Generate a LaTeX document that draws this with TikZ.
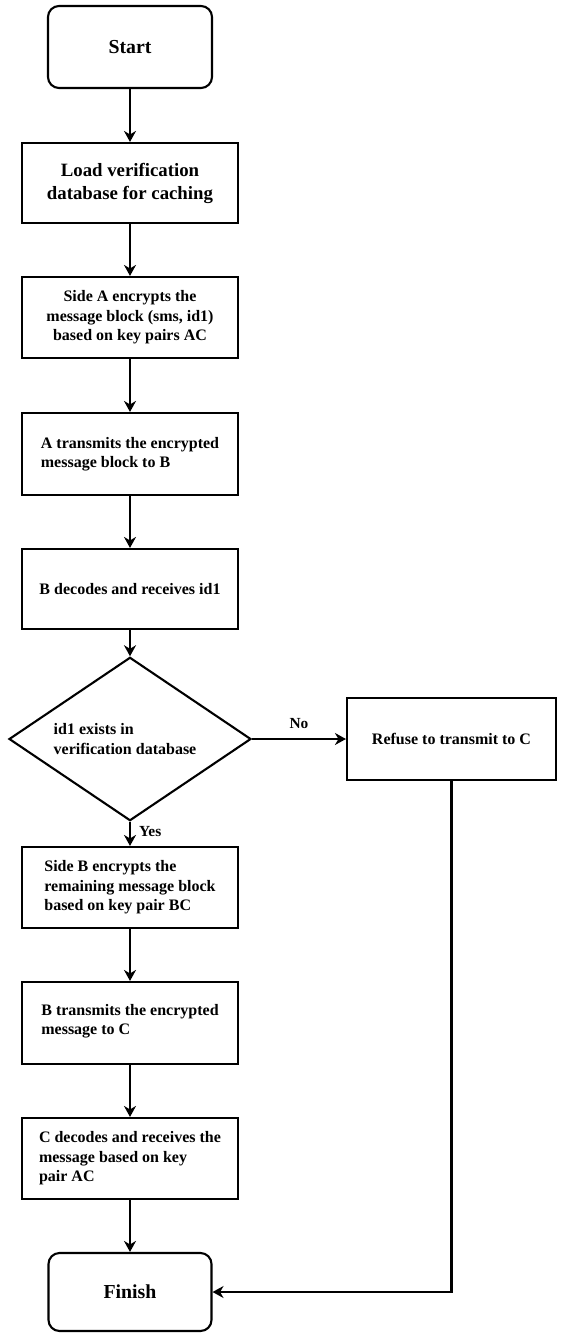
\documentclass[tikz,border=0pt]{standalone}
\usepackage{fontspec}
\setmainfont{Liberation Serif}
\usetikzlibrary{shapes.geometric,arrows.meta}
\newcommand\fcbody{\bfseries\fontsize{16}{19.5}\selectfont}
\newcommand\fcbig{\bfseries\fontsize{18.8}{23}\selectfont}
\newcommand\fcterm{\bfseries\fontsize{19.8}{23}\selectfont}
\newcommand\fclbl{\bfseries\fontsize{15.4}{18}\selectfont}
\tikzset{
  box/.style={draw, line width=2.1pt, rectangle, inner sep=0pt, minimum width=216pt, align=center, font=\fcbody},
  term/.style={box, rounded corners=11pt, minimum width=164pt, font=\fcterm},
  decision/.style={draw, line width=2.1pt, diamond, inner sep=0pt, minimum width=242pt, minimum height=107pt, align=left, font=\fcbody},
  arr/.style={line width=2.1pt, -{Stealth[length=11pt,width=12pt,inset=3.5pt]}},
  lbl/.style={font=\fclbl, inner sep=0pt}
}
\begin{document}
\begin{tikzpicture}[x=1pt,y=-1pt]
\useasboundingbox (0,0) rectangle (561,1333);
\node[term, minimum height=82pt] (start) at (130,47) {Start};
\node[box, minimum height=80pt, font=\fcbig] (load) at (130,183) {Load verification\\database for caching};
\node[box, minimum height=81pt] (sidea) at (130,317.5) {Side A encrypts the\\message block (sms, id1)\\based on key pairs AC};
\node[box, minimum height=82pt, align=left] (atrans) at (130,454) {A transmits the encrypted\\message block to B};
\node[box, minimum height=80pt] (bdec) at (130,589) {B decodes and receives id1};
\node[decision] (dec) at (130,739) {\hspace*{-10pt}id1 exists in\\\hspace*{-10pt}verification database};
\node[box, minimum width=209pt, minimum height=82pt] (refuse) at (451.5,739) {Refuse to transmit to C};
\node[box, minimum height=81pt, align=left] (sideb) at (130,887.5) {Side B encrypts the\\remaining message block\\based on key pair BC};
\node[box, minimum height=82pt, align=left] (btrans) at (130,1023) {B transmits the encrypted\\message to C\\[-12pt]\mbox{}};
\node[box, minimum height=81pt, align=left] (cdec) at (130,1158.5) {C decodes and receives the\\message based on key\\pair AC};
\node[term, minimum width=163pt, minimum height=78pt] (finish) at (130,1292) {Finish};
\draw[arr] (start) -- (load);
\draw[arr] (load) -- (sidea);
\draw[arr] (sidea) -- (atrans);
\draw[arr] (atrans) -- (bdec);
\draw[arr] (bdec) -- (dec);
\draw[arr] (dec.east) -- node[lbl, above=9pt] {No} (refuse.west);
\draw[arr] (dec.south) -- node[lbl, right=8pt, pos=0.42] {Yes} (sideb.north);
\draw[arr] (sideb) -- (btrans);
\draw[arr] (btrans) -- (cdec);
\draw[arr] (cdec) -- (finish);
\draw[arr] (refuse.south) |- (finish.east);
\end{tikzpicture}
\end{document}
